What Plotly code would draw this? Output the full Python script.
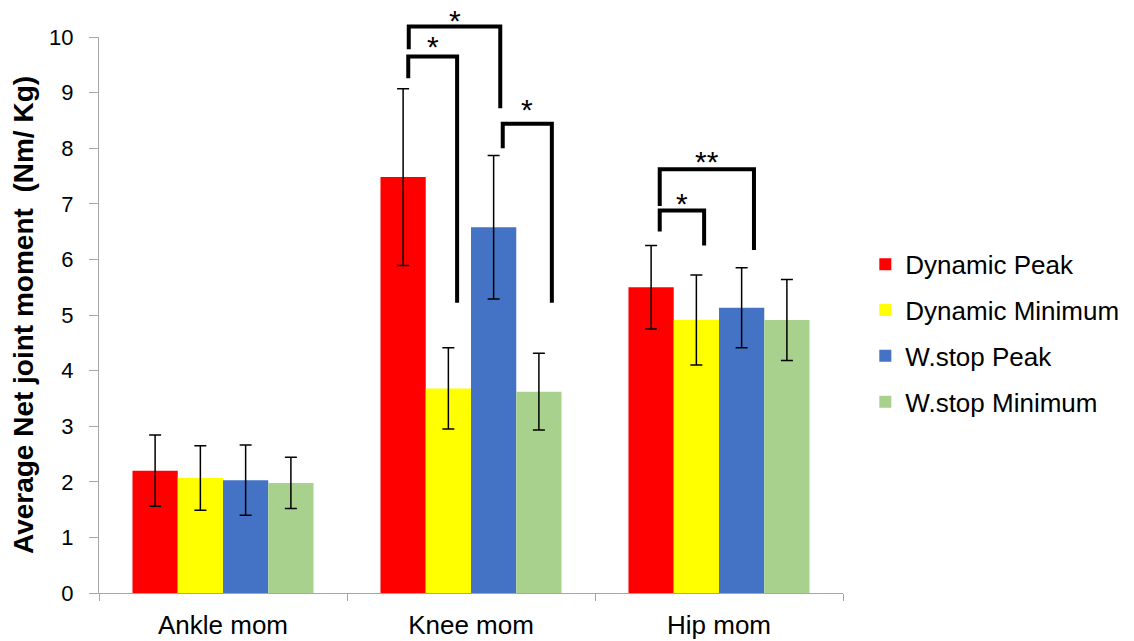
import plotly.graph_objects as go

categories = ["Ankle mom", "Knee mom", "Hip mom"]
series_names = ["Dynamic Peak", "Dynamic Minimum", "W.stop Peak", "W.stop Minimum"]
colors = ["#FF0000", "#FFFF00", "#4472C4", "#A9D18E"]

dyn_peak = [2.20, 7.48, 5.50]
dyn_peak_err = [0.64, 1.59, 0.75]
dyn_min = [2.07, 3.68, 4.91]
dyn_min_err = [0.58, 0.73, 0.81]
ws_peak = [2.03, 6.58, 5.13]
ws_peak_err = [0.63, 1.29, 0.72]
ws_min = [1.98, 3.62, 4.91]
ws_min_err = [0.46, 0.69, 0.73]

values = [dyn_peak, dyn_min, ws_peak, ws_min]
errors = [dyn_peak_err, dyn_min_err, ws_peak_err, ws_min_err]

y_ticks = [0, 1, 2, 3, 4, 5, 6, 7, 8, 9, 10]

# significance brackets: (category, x-left offset, x-right offset, y left end, y top, y right end, label, label y)
brackets = [
    ("Knee mom", -0.253, -0.056, 9.26, 9.65, 5.22, "*", 9.91),
    ("Knee mom", -0.251, 0.118, 9.78, 10.19, 8.72, "*", 10.37),
    ("Knee mom", 0.128, 0.326, 8.00, 8.44, 5.22, "*", 8.76),
    ("Hip mom", -0.239, 0.141, 6.96, 7.62, 6.17, "**", 7.84),
    ("Hip mom", -0.239, -0.060, 6.50, 6.88, 6.25, "*", 7.07),
]

YMAX = 10
fig = go.Figure()
for name, col, vals, errs in zip(series_names, colors, values, errors):
    fig.add_trace(go.Bar(
        x=categories, y=vals, name=name, marker=dict(color=col, line=dict(width=0)),
        legendgroup=name,
        error_y=dict(type="data", array=errs, visible=True, color="black", thickness=1.5, width=6),
    ))

def xp(cat, off):
    return (categories.index(cat) + off + 0.5) / len(categories)

def yp(v):
    return v / YMAX

for cat, xl, xr, yl, yt, yr, lab, ly in brackets:
    x0, x1 = xp(cat, xl), xp(cat, xr)
    fig.add_shape(type="path", xref="paper", yref="paper",
                  path=f"M {x0},{yp(yl)} L {x0},{yp(yt)} L {x1},{yp(yt)} L {x1},{yp(yr)}",
                  line=dict(color="black", width=4))
    fig.add_annotation(xref="paper", yref="paper", x=(x0 + x1) / 2, y=yp(ly),
                       text=lab, showarrow=False, yshift=-4,
                       font=dict(size=30, color="black", family="Liberation Sans"),
                       xanchor="center", yanchor="middle")

fig.update_layout(
    width=1134, height=641,
    margin=dict(l=91, r=299, t=29, b=56),
    paper_bgcolor="white", plot_bgcolor="white",
    barmode="group", bargap=0.27, bargroupgap=0,
    font=dict(family="Liberation Sans", color="black"),
    showlegend=True,
    legend=dict(x=1.030, y=0.467, xanchor="left", yanchor="middle",
                font=dict(size=26, color="black"), traceorder="grouped", tracegroupgap=9),
    xaxis=dict(showline=True, linecolor="#A6A6A6", linewidth=1.3, ticks="outside",
               tickson="boundaries", ticklen=7, tickcolor="#A6A6A6", tickwidth=1.3,
               tickfont=dict(size=26, color="black"), showgrid=False, automargin=False,
               ticklabelstandoff=9),
    yaxis=dict(range=[0, YMAX], tickvals=y_ticks, showline=True, linecolor="#A6A6A6", linewidth=1.3,
               ticks="outside", ticklen=9, tickcolor="#A6A6A6", tickwidth=1.3, showgrid=False, zeroline=False,
               tickfont=dict(size=22, color="black"), ticklabelstandoff=11, automargin=False,
               title=dict(text="<b>Average Net joint moment  (Nm/ Kg)</b>", font=dict(size=28, color="black"), standoff=8)),
)

fig.write_html("out.html")
